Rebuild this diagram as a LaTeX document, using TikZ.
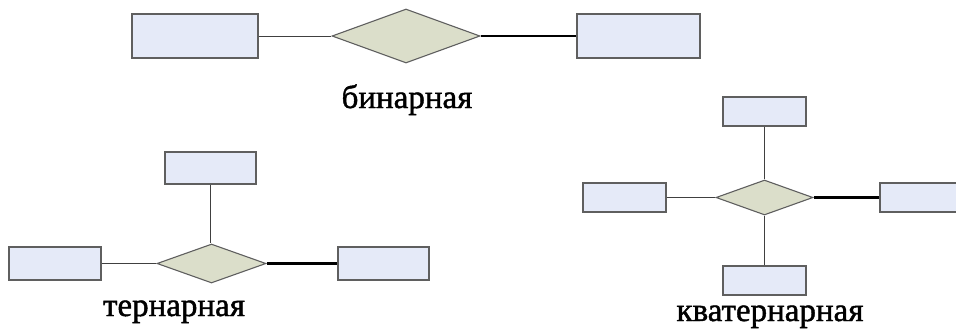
\documentclass[tikz,border=0pt]{standalone}
\usepackage{fontspec}
\setmainfont{Liberation Serif}
\newfontfamily\captionfont[FakeBold=1.3]{Liberation Serif}
\usetikzlibrary{shapes.geometric}
\definecolor{entityfill}{RGB}{229, 234, 248}
\definecolor{relfill}{RGB}{219, 222, 202}
\definecolor{edgegray}{RGB}{95, 95, 95}

\begin{document}
\begin{tikzpicture}[x=1pt, y=-1pt,
    entity/.style={rectangle, draw=edgegray, line width=1.1pt, fill=entityfill, inner sep=0pt},
    relation/.style={diamond, draw=edgegray, line width=1.1pt, fill=relfill, inner sep=0pt},
    weak link/.style={draw=black!75, line width=0.9pt},
    strong link/.style={draw=black, line width=2.3pt},
    caption/.style={font=\captionfont\fontsize{33}{36}\selectfont, anchor=base}]
    \useasboundingbox (0,0) rectangle (956,333);
    \clip (0,0) rectangle (956,333);

    % binary relationship
    \node[entity, minimum width=126pt, minimum height=44pt] (binL) at (195,36) {};
    \node[relation, minimum width=148pt, minimum height=54pt] (binR) at (406,36) {};
    \node[entity, minimum width=123pt, minimum height=44pt] (binE) at (638.5,36) {};
    \draw[weak link] (binL) -- (binR);
    \draw[strong link] (binR) -- (binE);
    \node[caption] (binT) at (407,108) {бинарная};

    % ternary relationship
    \node[entity, minimum width=91pt, minimum height=32pt] (terT) at (210.5,168) {};
    \node[relation, minimum width=109pt, minimum height=39pt] (terR) at (211.5,263.5) {};
    \node[entity, minimum width=92pt, minimum height=33pt] (terL) at (55,263.5) {};
    \node[entity, minimum width=91pt, minimum height=33pt] (terE) at (383.5,263.5) {};
    \draw[weak link] (terT) -- (terT |- terR.north);
    \draw[weak link] (terL) -- (terR);
    \draw[strong link] (terR) -- (terE);
    \node[caption] (terC) at (174,316) {тернарная};

    % quaternary relationship
    \node[entity, minimum width=83pt, minimum height=29pt] (quaT) at (764.5,111.5) {};
    \node[relation, minimum width=97pt, minimum height=35pt] (quaR) at (764.5,197.5) {};
    \node[entity, minimum width=83pt, minimum height=29pt] (quaL) at (624.5,197.5) {};
    \node[entity, minimum width=83pt, minimum height=29pt] (quaE) at (921.5,197.5) {};
    \node[entity, minimum width=83pt, minimum height=29pt] (quaB) at (764.5,280.5) {};
    \draw[weak link] (quaT) -- (quaR);
    \draw[weak link] (quaB) -- (quaR);
    \draw[weak link] (quaL) -- (quaR);
    \draw[strong link] (quaR) -- (quaE);
    \node[caption] (quaC) at (770,321) {кватернарная};
\end{tikzpicture}
\end{document}
